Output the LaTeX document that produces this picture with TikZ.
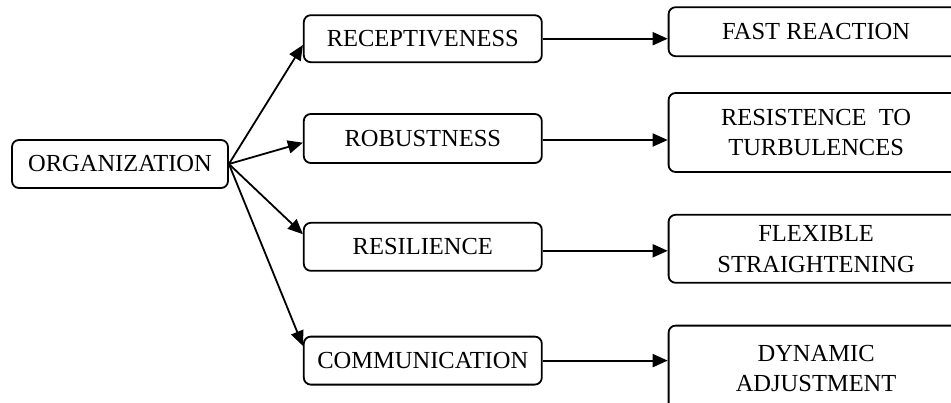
\documentclass[tikz,border=0pt]{standalone}
\usepackage{fontspec}
\setmainfont{Liberation Serif}
\usepackage{tikz}
\usetikzlibrary{arrows.meta}
\usetikzlibrary{positioning}

\begin{document}
\begin{tikzpicture}
          [x=1pt, y=1pt,
           every node/.style={draw, rounded corners=7pt, line width=1.8pt,
             inner sep=0pt, align=center,
             font=\fontsize{24.5}{30.7}\selectfont},
           midbox/.style={minimum width=238pt, minimum height=48pt},
           endbox/.style={minimum width=295pt},
           arr/.style={line width=1.8pt, -{Triangle[length=15pt,width=13pt]}}]
          \useasboundingbox (0,0) rectangle (951,-402);
          \clip (0,0) rectangle (951,-402);
          \node (org) [minimum width=216pt, minimum height=48pt] at (120,-164) {ORGANIZATION};
          \node (rob) [midbox, minimum height=49pt, right=74pt of org, yshift=25.5pt] {ROBUSTNESS};
          \node (rec) [midbox, minimum height=47pt, above=50pt of rob] {RECEPTIVENESS};
          \node (res) [midbox, below=58pt of rob] {RESILIENCE};
          \node (com) [midbox, below=64pt of res] {COMMUNICATION};

          \node (fast) [endbox, minimum height=49pt, right=125pt of rec, yshift=7pt] {FAST REACTION};
          \node (tur) [endbox, minimum height=79pt, right=125pt of rob, yshift=6pt] {RESISTENCE~~TO\\TURBULENCES};
          \node (flex) [endbox, minimum height=68pt, right=125pt of res, yshift=-2pt] {FLEXIBLE\\STRAIGHTENING};
          \node (dyn) [endbox, minimum height=86pt, right=125pt of com, yshift=-8pt] {DYNAMIC\\ADJUSTMENT};

          \draw[arr] (org.east) -- (rec.183);
          \draw[arr] (org.east) -- (rob.182);
          \draw[arr] (org.east) -- (res.174);
          \draw[arr] (org.east) -- (com.173);

          \draw[arr] (rec.east) -- (rec.east -| fast.west);
          \draw[arr] ([yshift=-1.5pt]rob.east) -- ([yshift=-1.5pt]rob.east -| tur.west);
          \draw[arr] ([yshift=-4pt]res.east) -- ([yshift=-4pt]res.east -| flex.west);
          \draw[arr] (com.east) -- (com.east -| dyn.west);

        \end{tikzpicture}
\end{document}
